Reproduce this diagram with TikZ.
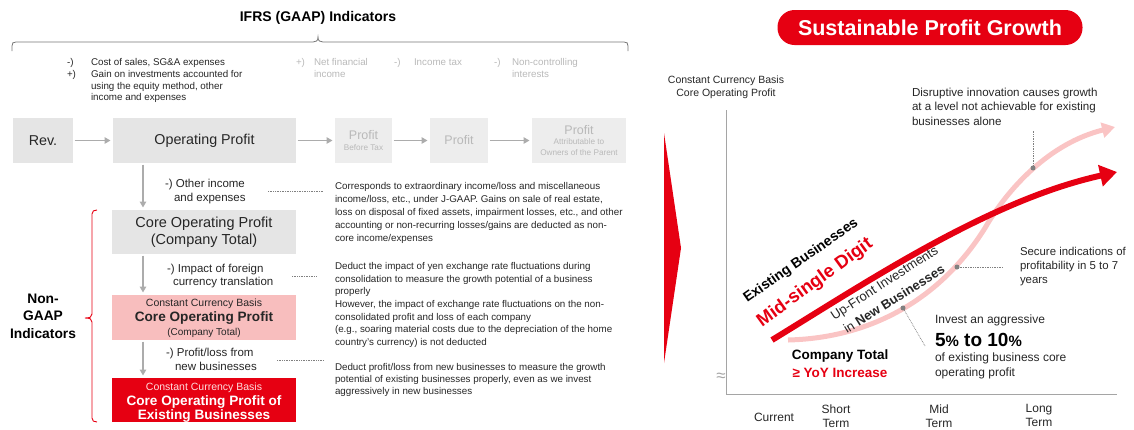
\documentclass[tikz,border=0pt]{standalone}
\usepackage{fontspec}
\setmainfont{Liberation Sans}
\usetikzlibrary{arrows.meta}
\definecolor{cred}{RGB}{230,0,18}
\definecolor{cpink}{RGB}{248,190,190}
\definecolor{cbox}{RGB}{229,229,229}
\definecolor{cfade}{RGB}{237,237,237}
\definecolor{cfadetxt}{RGB}{185,185,185}
\definecolor{carrow}{RGB}{172,172,172}
\definecolor{ctxt}{RGB}{38,38,38}
\definecolor{cpinkline}{RGB}{250,196,196}
\definecolor{cdot}{RGB}{128,128,128}
\definecolor{caxis}{RGB}{165,165,165}
\definecolor{cbrk}{RGB}{120,120,120}
\definecolor{cwhitepink}{RGB}{255,222,222}
\newcommand\fsz[2]{\fontsize{#1}{#2}\selectfont}
\begin{document}
\begin{tikzpicture}[x=1pt,y=-1pt,
  every node/.style={inner sep=0pt,outer sep=0pt,text=ctxt},
  gbox/.style={fill=cbox,minimum height=45pt},
  fbox/.style={fill=cfade,minimum height=45pt,text=cfadetxt,align=center,font=\fsz{8.2}{10.5}},
  garrow/.style={draw=carrow,line width=1.4pt,-{Triangle[length=6pt,width=6.5pt]},shorten >=2.5pt,shorten <=1.5pt},
  txt/.style={font=\fsz{9.8}{11.7},align=left,anchor=north west},
  desc/.style={align=left,anchor=north west},
  lbl/.style={font=\fsz{11.5}{14},anchor=west,text height=8.3pt,text depth=2.3pt},
  leader/.style={draw=cdot,line width=0.7pt,dash pattern=on 0.8pt off 0.9pt},
  ann/.style={font=\fsz{11.6}{14.5},align=left,anchor=north west},
  gdot/.style={circle,fill=cdot,minimum size=5pt},
  xlab/.style={font=\fsz{12}{14},align=center,anchor=north},
]
\useasboundingbox (0,0) rectangle (1134,429);

% ---------------- left panel ----------------
\node[font=\bfseries\fsz{14}{16},text=black] (title) at (318,18) {IFRS (GAAP) Indicators};
\draw[cbrk,line width=0.8pt] (12,51) -- (12,46) .. controls (12,43) and (13,42) .. (16,42) -- (313,42)
  .. controls (316,42) and (318,41) .. (318,37) .. controls (318,41) and (320,42) .. (323,42) -- (624,42)
  .. controls (627,42) and (628,43) .. (628,46) -- (628,51);

\node[txt] (ls) at (67,58.5) {-)\\+)};
\node[txt] (lt) at (91,58.5) {Cost of sales, SG\&A expenses\\Gain on investments accounted for\\using the equity method, other\\income and expenses};
\node[txt,text=cfadetxt] (g1s) at (296,58.5) {+)};
\node[txt,text=cfadetxt] (g1) at (314,58.5) {Net financial\\income};
\node[txt,text=cfadetxt] (g2s) at (394,58.5) {-)};
\node[txt,text=cfadetxt] (g2) at (414,58.5) {Income tax};
\node[txt,text=cfadetxt] (g3s) at (494,58.5) {-)};
\node[txt,text=cfadetxt] (g3) at (512,58.5) {Non-controlling\\interests};

% top row
\node[gbox,minimum width=60pt] (rev) at (43,140.5) {\fsz{14.3}{16}Rev.};
\node[gbox,minimum width=183pt] (op) at (204.5,140.5) {\fsz{14.3}{16}Operating Profit};
\node[fbox,minimum width=57pt] (pbt) at (363.5,140.5) {{\fsz{12.5}{13}Profit}\\Before Tax};
\node[fbox,minimum width=58pt] (pr) at (459,140.5) {\fsz{12.5}{13}Profit};
\node[fbox,minimum width=94pt] (attr) at (579,140.5) {{\fsz{12.5}{13}Profit}\\Attributable to\\Owners of the Parent};
\draw[garrow] (rev) -- (op);
\draw[garrow] (op) -- (pbt);
\draw[garrow] (pbt) -- (pr);
\draw[garrow] (pr) -- (attr);

% column
\node[gbox,minimum width=184pt,minimum height=44pt,align=center,font=\fsz{14.5}{17.5}] (core) at (204,232) {Core Operating Profit\\(Company Total)};
\node[fill=cpink,minimum width=184pt,minimum height=45pt] (pink) at (204,317.5) {};
\node[font=\fsz{10.5}{12}] (p1) at (204,304) {Constant Currency Basis};
\node[font=\bfseries\fsz{13.6}{15}] (p2) at (204,318) {Core Operating Profit};
\node[font=\fsz{10}{12}] (p3) at (204,332.5) {(Company Total)};
\node[fill=cred,minimum width=184pt,minimum height=44pt] (redb) at (204,400) {};
\node[font=\fsz{10.5}{12},text=cwhitepink] (r1) at (204,387.5) {Constant Currency Basis};
\node[font=\bfseries\fsz{13.6}{15},text=white] (r2) at (204,402.5) {Core Operating Profit of};
\node[font=\bfseries\fsz{13.6}{15},text=white] (r3) at (204,416.5) {Existing Businesses};

\coordinate (ax) at (143,0);
\draw[garrow] (op.south -| ax) -- (core.north -| ax);
\draw[garrow] (core.south -| ax) -- (pink.north -| ax);
\draw[garrow] (pink.south -| ax) -- (redb.north -| ax);

\node[lbl] (a1) at (165,184) {-) Other income};
\node[lbl] (a2) at (174,198) {and expenses};
\node[lbl] (b1) at (167,269) {-) Impact of foreign};
\node[lbl] (b2) at (173,282.5) {currency translation};
\node[lbl] (c1) at (166,353) {-) Profit/loss from};
\node[lbl] (c2) at (175,367) {new businesses};

\coordinate (q1a) at (268,191); \coordinate (q1b) at (323,191);
\coordinate (q2a) at (292,276); \coordinate (q2b) at (317,276);
\coordinate (q3a) at (277,360); \coordinate (q3b) at (323,360);
\draw[leader] (q1a) -- (q1b);
\draw[leader] (q2a) -- (q2b);
\draw[leader] (q3a) -- (q3b);

\node[desc,font=\fsz{9.8}{13}] (d1) at (335,182.5) {Corresponds to extraordinary income/loss and miscellaneous\\income/loss, etc., under J-GAAP. Gains on sale of real estate,\\loss on disposal of fixed assets, impairment losses, etc., and other\\accounting or non-recurring losses/gains are deducted as non-\\core income/expenses};
\node[desc,font=\fsz{9.8}{12.5}] (d2) at (335,262.5) {Deduct the impact of yen exchange rate fluctuations during\\consolidation to measure the growth potential of a business\\properly};
\node[desc,font=\fsz{9.8}{12.5}] (d3) at (335,300.5) {However, the impact of exchange rate fluctuations on the non-\\consolidated profit and loss of each company\\(e.g., soaring material costs due to the depreciation of the home\\country's currency) is not deducted};
\node[desc,font=\fsz{9.8}{12}] (d4) at (335,363.5) {Deduct profit/loss from new businesses to measure the growth\\potential of existing businesses properly, even as we invest\\aggressively in new businesses};

\node[align=center,font=\bfseries\fsz{13.8}{17.5},text=black,anchor=north] (ng) at (43,293.5) {Non-\\GAAP\\Indicators};
\draw[cred,line width=0.9pt] (97,210) .. controls (94,210) and (92,211) .. (92,214) -- (92,314)
  .. controls (92,317) and (90,318) .. (85,318) .. controls (90,318) and (92,319) .. (92,322) -- (92,418)
  .. controls (92,421) and (94,422) .. (97,422);

% ---------------- right panel ----------------
\fill[cred] (664,133) -- (681,248) -- (664,363) -- cycle;
\node[fill=cred,rounded corners=17pt,minimum width=305pt,minimum height=35pt,text=white,font=\bfseries\fsz{21.5}{24}] (spg) at (930,27.5) {Sustainable Profit Growth};

\node[align=center,font=\fsz{10.5}{12.5},anchor=north] (ylab) at (726,76) {Constant Currency Basis\\Core Operating Profit};
\coordinate (ytop) at (726,110);
\coordinate (orig) at (726,394);
\coordinate (xend) at (1117,394);
\draw[caxis,line width=1pt] (ytop) -- (orig) -- (xend);
\node[text=caxis,font=\fsz{17}{17}] (brk) at (721,377) {≈};

\node[font=\fsz{12}{14}] (cur) at (774,417) {Current};
\node[xlab] (st) at (836,404.5) {Short\\Term};
\node[xlab] (mt) at (939,404.5) {Mid\\Term};
\node[xlab] (lt2) at (1039,404.5) {Long\\Term};

% curves
\coordinate (ps) at (788,340);
\coordinate (pm) at (985,228);
\coordinate (pe) at (1115,127);
\draw[cpinkline,line width=5pt,-{Triangle[length=13pt,width=15pt]}] (ps) .. controls (870,338) and (940,300) .. (pm) .. controls (1008,188) and (1050,143) .. (pe);
\coordinate (rs) at (772,340);
\coordinate (re) at (1117,172);
\draw[cred,line width=6pt,-{Triangle[length=17pt,width=21pt]}] (rs) .. controls (870,280) and (990,200) .. (re);

\node[gdot] (dot1) at (1033,168) {};
\node[gdot] (dot2) at (957,267) {};
\node[gdot] (dot3) at (903,308) {};
\coordinate (e1) at (1033,130);
\coordinate (e2) at (1003,267);
\coordinate (e3) at (925,346);
\draw[leader] (dot1) -- (e1);
\draw[leader] (dot2) -- (e2);
\draw[leader] (dot3) -- (e3);

\node[rotate=35,font=\bfseries\fsz{14}{16},text=black] (eb) at (801,261) {Existing Businesses};
\node[rotate=36,font=\bfseries\fsz{18.5}{21},text=cred] (msd) at (815,283) {Mid-single Digit};
\node[rotate=33,font=\fsz{13}{15}] (ufi) at (885,284) {Up-Front Investments};
\node[rotate=32,font=\fsz{13}{15}] (inb) at (894,299) {in \textbf{New Businesses}};

\node[font=\bfseries\fsz{13.5}{15},text=black] (ct) at (840,356) {Company Total};
\node[font=\bfseries\fsz{13.5}{15},text=cred] (yoy) at (840,373) {≥ YoY Increase};

\node[ann] (dis) at (912,87.6) {Disruptive innovation causes growth\\at a level not achievable for existing\\businesses alone};
\node[ann,font=\fsz{11.4}{14}] (sec) at (1020,247.6) {Secure indications of\\profitability in 5 to 7\\years};
\node[font=\fsz{12}{14},anchor=west,text height=8.7pt,text depth=2.4pt] (inv1) at (935,320) {Invest an aggressive};
\node[font=\bfseries\fsz{19}{21},anchor=west,text=black] (inv2) at (935,340) {5{\fsz{15}{17}\%} to 10{\fsz{15}{17}\%}};
\node[font=\fsz{12}{15},align=left,anchor=north west] (inv3) at (935,352.5) {of existing business core\\operating profit};
\end{tikzpicture}
\end{document}
